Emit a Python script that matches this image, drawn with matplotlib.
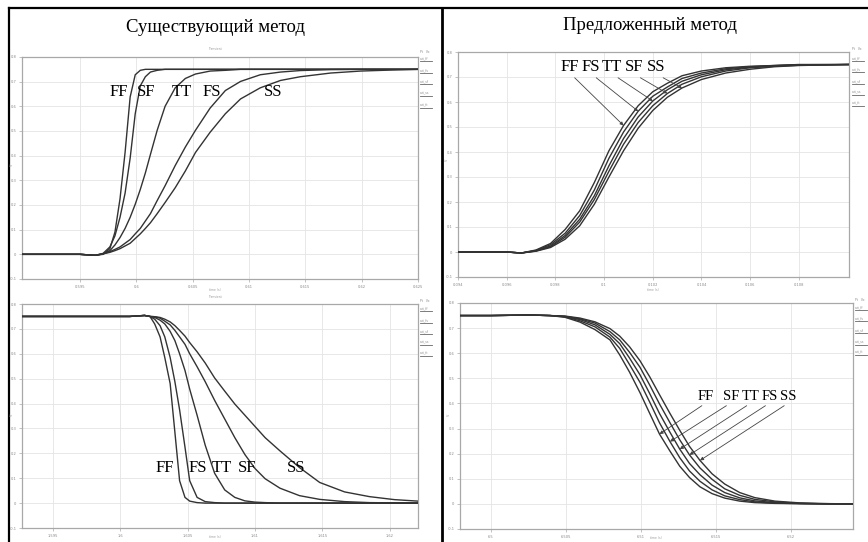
import matplotlib
matplotlib.use("Agg")
import matplotlib.pyplot as plt
from matplotlib.lines import Line2D

# ---------------- data ----------------
titles = ["Существующий метод", "Предложенный метод"]
y_ticks = [-0.1, 0.0, 0.1, 0.2, 0.3, 0.4, 0.5, 0.6, 0.7, 0.8]
y_ticklabels = ["-0.1", "0", "0.1", "0.2", "0.3", "0.4", "0.5", "0.6", "0.7", "0.8"]
legend_names = ["out_ff", "out_fs", "out_sf", "out_ss", "out_tt"]

# top-left: existing method, rising edge
tl_xticklabels = ["0.595", "0.6", "0.605", "0.61", "0.615", "0.62", "0.625"]
tl_t = [-1.03, 0, 0.27, 0.41, 0.53, 0.62, 0.71, 0.80, 0.89, 0.98, 1.07, 1.16, 1.25, 1.37,
        1.51, 1.69, 1.87, 2.05, 2.31, 2.58, 2.85, 3.2, 3.56, 3.91, 4.45, 4.98, 5.52, 6.0]
tl_FF = [0, 0, -0.004, 0.0, 0.023, 0.09, 0.225, 0.413, 0.638, 0.728, 0.746, 0.75, 0.75, 0.75,
         0.75, 0.75, 0.75, 0.75, 0.75, 0.75, 0.75, 0.75, 0.75, 0.75, 0.75, 0.75, 0.75, 0.75]
tl_SF = [0, 0, -0.004, 0.004, 0.03, 0.075, 0.15, 0.248, 0.39, 0.57, 0.683, 0.72, 0.739, 0.746,
         0.75, 0.75, 0.75, 0.75, 0.75, 0.75, 0.75, 0.75, 0.75, 0.75, 0.75, 0.75, 0.75, 0.75]
tl_TT = [0, 0, -0.004, 0.002, 0.015, 0.038, 0.068, 0.105, 0.15, 0.203, 0.263, 0.33, 0.405, 0.503,
         0.60, 0.675, 0.713, 0.731, 0.743, 0.746, 0.75, 0.75, 0.75, 0.75, 0.75, 0.75, 0.75, 0.75]
tl_FS = [0, 0, -0.004, 0.002, 0.011, 0.02, 0.03, 0.045, 0.06, 0.083, 0.105, 0.135, 0.165, 0.218,
         0.278, 0.36, 0.435, 0.503, 0.593, 0.664, 0.701, 0.728, 0.739, 0.745, 0.749, 0.75, 0.75, 0.75]
tl_SS = [0, 0, -0.004, 0.002, 0.008, 0.015, 0.023, 0.034, 0.045, 0.064, 0.083, 0.105, 0.128, 0.165,
         0.21, 0.27, 0.338, 0.413, 0.495, 0.57, 0.63, 0.675, 0.705, 0.72, 0.735, 0.743, 0.747, 0.75]
tl_labels = ["FF", "SF", "TT", "FS", "SS"]

# top-right: proposed method, rising edge
tr_xticklabels = ["0.094", "0.096", "0.098", "0.1", "0.102", "0.104", "0.106", "0.108"]
tr_t = [0, 1.0, 1.3, 1.6, 1.9, 2.2, 2.5, 2.8, 3.1, 3.4, 3.7, 4.0, 4.3, 4.6, 5.0, 5.5, 6.0, 6.5, 7.0, 8.03]
tr_FF = [0, 0, -0.004, 0.008, 0.034, 0.09, 0.165, 0.278, 0.405, 0.506,
         0.585, 0.641, 0.675, 0.705, 0.724, 0.737, 0.743, 0.746, 0.75, 0.75]
tr_FS = [0, 0, -0.004, 0.006, 0.029, 0.075, 0.146, 0.248, 0.375, 0.48,
         0.563, 0.623, 0.66, 0.694, 0.716, 0.733, 0.741, 0.746, 0.749, 0.75]
tr_TT = [0, 0, -0.004, 0.005, 0.024, 0.066, 0.131, 0.225, 0.345, 0.454,
         0.54, 0.604, 0.649, 0.683, 0.709, 0.729, 0.739, 0.745, 0.748, 0.75]
tr_SF = [0, 0, -0.004, 0.004, 0.021, 0.059, 0.12, 0.21, 0.323, 0.431,
         0.518, 0.585, 0.634, 0.671, 0.701, 0.724, 0.737, 0.743, 0.747, 0.75]
tr_SS = [0, 0, -0.004, 0.003, 0.018, 0.051, 0.105, 0.191, 0.30, 0.405,
         0.495, 0.566, 0.619, 0.656, 0.69, 0.716, 0.731, 0.741, 0.746, 0.75]
tr_labels = ["FF", "FS", "TT", "SF", "SS"]
tr_tip_idx = [9, 10, 11, 12, 13]

# bottom-left: existing method, falling edge
bl_xticklabels = ["1.595", "1.6", "1.605", "1.61", "1.615", "1.62"]
bl_t = [-0.46, 0, 0.70, 1.14, 1.36, 1.44, 1.51, 1.59, 1.66, 1.74, 1.81, 1.88, 1.96, 2.03, 2.14,
        2.26, 2.40, 2.55, 2.70, 2.85, 3.00, 3.15, 3.37, 3.66, 3.96, 4.33, 4.70, 5.07, 5.42]
bl_FF = [0.75, 0.75, 0.75, 0.75, 0.754, 0.75, 0.72, 0.668, 0.585, 0.48, 0.285, 0.09, 0.023, 0.008, 0.002,
         0, 0, 0, 0, 0, 0, 0, 0, 0, 0, 0, 0, 0, 0]
bl_FS = [0.75, 0.75, 0.75, 0.75, 0.754, 0.75, 0.739, 0.713, 0.668, 0.585, 0.488, 0.375, 0.225, 0.09, 0.023,
         0.006, 0.002, 0, 0, 0, 0, 0, 0, 0, 0, 0, 0, 0, 0]
bl_TT = [0.75, 0.75, 0.75, 0.75, 0.754, 0.75, 0.746, 0.735, 0.72, 0.69, 0.653, 0.60, 0.533, 0.458, 0.353,
         0.233, 0.12, 0.053, 0.023, 0.009, 0.004, 0.002, 0, 0, 0, 0, 0, 0, 0]
bl_SF = [0.75, 0.75, 0.75, 0.75, 0.754, 0.75, 0.749, 0.743, 0.731, 0.716, 0.694, 0.668, 0.638, 0.60, 0.548,
         0.488, 0.413, 0.338, 0.263, 0.195, 0.139, 0.098, 0.06, 0.03, 0.015, 0.006, 0.002, 0.001, 0]
bl_SS = [0.75, 0.75, 0.75, 0.75, 0.754, 0.75, 0.749, 0.746, 0.739, 0.728, 0.713, 0.694, 0.671, 0.645, 0.608,
         0.563, 0.503, 0.45, 0.398, 0.353, 0.308, 0.263, 0.21, 0.143, 0.083, 0.045, 0.026, 0.014, 0.008]
bl_labels = ["FF", "FS", "TT", "SF", "SS"]

# bottom-right: proposed method, falling edge
br_xticklabels = ["6.5", "6.505", "6.51", "6.515", "6.52"]
br_t = [-0.41, 0, 0.52, 0.79, 0.99, 1.19, 1.39, 1.59, 1.72, 1.85, 1.99, 2.12, 2.25, 2.39, 2.52,
        2.65, 2.79, 2.95, 3.12, 3.32, 3.52, 3.79, 4.12, 4.52, 4.83]
br_FF = [0.75, 0.75, 0.752, 0.75, 0.743, 0.724, 0.694, 0.653, 0.593, 0.525, 0.443, 0.36, 0.278, 0.21,
         0.15, 0.105, 0.068, 0.041, 0.023, 0.011, 0.005, 0.002, 0.001, 0, 0]
br_SF = [0.75, 0.75, 0.752, 0.75, 0.745, 0.729, 0.705, 0.664, 0.619, 0.555, 0.484, 0.405, 0.323, 0.248,
         0.184, 0.131, 0.09, 0.056, 0.032, 0.017, 0.008, 0.003, 0.001, 0, 0]
br_TT = [0.75, 0.75, 0.752, 0.75, 0.746, 0.734, 0.713, 0.675, 0.638, 0.581, 0.514, 0.439, 0.36, 0.285,
         0.218, 0.161, 0.116, 0.075, 0.045, 0.024, 0.012, 0.005, 0.002, 0, 0]
br_FS = [0.75, 0.75, 0.752, 0.75, 0.747, 0.737, 0.72, 0.686, 0.653, 0.604, 0.544, 0.473, 0.398, 0.323,
         0.255, 0.195, 0.143, 0.098, 0.06, 0.034, 0.018, 0.008, 0.002, 0, 0]
br_SS = [0.75, 0.75, 0.752, 0.75, 0.748, 0.74, 0.725, 0.698, 0.668, 0.626, 0.57, 0.506, 0.435, 0.36,
         0.293, 0.229, 0.173, 0.12, 0.079, 0.045, 0.025, 0.011, 0.004, 0.001, 0]
br_labels = ["FF", "SF", "TT", "FS", "SS"]
br_tip_idx = [12, 13, 14, 15, 16]

# ---------------- figure ----------------
W, H = 868, 542
fig = plt.figure(figsize=(W / 100, H / 100), dpi=100)
fig.patch.set_facecolor("white")
SERIF = ["Liberation Serif", "DejaVu Serif"]
CURVE = "#333333"


def fx(px):
    return px / W


def fy(py):
    return 1 - py / H


def rect(l, t, r, b):
    return [fx(l), fy(b), (r - l) / W, (b - t) / H]


def panel(box, xlim, xticklabels, t, curves):
    ax = fig.add_axes(rect(*box))
    for y in curves:
        ax.plot(t, y, color=CURVE, lw=1.0, solid_joinstyle="round", zorder=3)
    ax.set_xlim(*xlim)
    ax.set_ylim(-0.1, 0.8)
    ax.set_xticks(list(range(len(xticklabels))))
    ax.set_xticklabels(xticklabels)
    ax.set_yticks(y_ticks)
    ax.set_yticklabels(y_ticklabels)
    ax.grid(True, color="#e4e4e4", lw=0.6, zorder=0)
    for s in ax.spines.values():
        s.set_color("#a8a8a8")
        s.set_linewidth(0.9)
    ax.tick_params(length=2, width=0.5, color="#aaaaaa", labelsize=2.6,
                   labelcolor="#888888", pad=2)
    return ax


def legend(x0, y_head, ys):
    fig.text(fx(x0), fy(y_head), "Pt   Vo", fontsize=2.2, color="#888888",
             va="center", ha="left")
    for name, yy in zip(legend_names, ys):
        fig.text(fx(x0), fy(yy), name, fontsize=2.2, color="#888888", va="center", ha="left")
        fig.add_artist(Line2D([fx(x0), fx(x0 + 12)], [fy(yy + 3), fy(yy + 3)],
                              color="#666666", lw=0.6))


ax_tl = panel((22, 57, 418, 279), (-1.03, 6.0), tl_xticklabels, tl_t,
              [tl_FF, tl_SF, tl_TT, tl_FS, tl_SS])
ax_tr = panel((458, 52, 849, 277), (0, 8.03), tr_xticklabels, tr_t,
              [tr_FF, tr_FS, tr_TT, tr_SF, tr_SS])
ax_bl = panel((22, 304, 418, 528), (-0.46, 5.42), bl_xticklabels, bl_t,
              [bl_FF, bl_FS, bl_TT, bl_SF, bl_SS])
ax_br = panel((460, 303, 853, 529), (-0.41, 4.83), br_xticklabels, br_t,
              [br_FF, br_SF, br_TT, br_FS, br_SS])

# titles
fig.text(fx(215), fy(28), titles[0], fontsize=13.5, family=SERIF, ha="center", va="center")
fig.text(fx(650), fy(25), titles[1], fontsize=13.5, family=SERIF, ha="center", va="center")

# labels, top-left (no arrows)
for name, x in zip(tl_labels, [0.69, 1.17, 1.80, 2.33, 3.43]):
    ax_tl.text(x, 0.658, name, fontsize=12, family=SERIF, ha="center", va="center", zorder=4)

# labels, bottom-left (no arrows)
for name, x in zip(bl_labels, [1.66, 2.15, 2.51, 2.88, 3.61]):
    ax_bl.text(x, 0.14, name, fontsize=12, family=SERIF, ha="center", va="center", zorder=4)

# labels with arrows, top-right
tr_data = {"FF": tr_FF, "FS": tr_FS, "TT": tr_TT, "SF": tr_SF, "SS": tr_SS}
for name, x, idx in zip(tr_labels, [2.30, 2.73, 3.16, 3.61, 4.07], tr_tip_idx):
    ax_tr.annotate(name, xy=(tr_t[idx], tr_data[name][idx]), xytext=(x, 0.74),
                   fontsize=12, family=SERIF, ha="center", va="center", zorder=4,
                   arrowprops=dict(arrowstyle="-|>", color="#444444", lw=0.6,
                                   mutation_scale=5, shrinkA=0, shrinkB=0,
                                   relpos=(0.6, 0.0)))

# labels with arrows, bottom-right
br_data = {"FF": br_FF, "SF": br_SF, "TT": br_TT, "FS": br_FS, "SS": br_SS}
for name, x, idx in zip(br_labels, [2.87, 3.20, 3.47, 3.72, 3.97], br_tip_idx):
    ax_br.annotate(name, xy=(br_t[idx], br_data[name][idx]), xytext=(x, 0.428),
                   fontsize=10.5, family=SERIF, ha="center", va="center", zorder=4,
                   arrowprops=dict(arrowstyle="-|>", color="#444444", lw=0.6,
                                   mutation_scale=5, shrinkA=0, shrinkB=0,
                                   relpos=(0.5, 0.0)))

# legends at the right of each panel
legend(420, 52, [58, 70, 81, 93, 105])
legend(852, 49, [58, 69, 81, 92, 103])
legend(420, 301, [308, 320, 331, 342, 353])
legend(855, 300, [307, 318, 330, 342, 352])

# tiny axis captions
for (x, y, s) in [(215, 49, "Transient"), (215, 297, "Transient"),
                  (215, 290, "time (s)"), (653, 290, "time (s)"),
                  (215, 537, "time (s)"), (656, 538, "time (s)")]:
    fig.text(fx(x), fy(y), s, fontsize=2.2, color="#999999", ha="center", va="center")
for (x, y) in [(12, 165), (447, 160), (12, 415), (449, 415)]:
    fig.text(fx(x), fy(y), "V", fontsize=2.4, color="#999999", ha="center", va="center",
             rotation=90)

# black frame
fig.add_artist(Line2D([fx(9), fx(9)], [fy(8), fy(542)], color="black", lw=1.6))
fig.add_artist(Line2D([fx(9), fx(868)], [fy(8), fy(8)], color="black", lw=1.6))
fig.add_artist(Line2D([fx(442), fx(442)], [fy(8), fy(542)], color="black", lw=2.0))

fig.savefig("out.png", dpi=100, facecolor="white")
